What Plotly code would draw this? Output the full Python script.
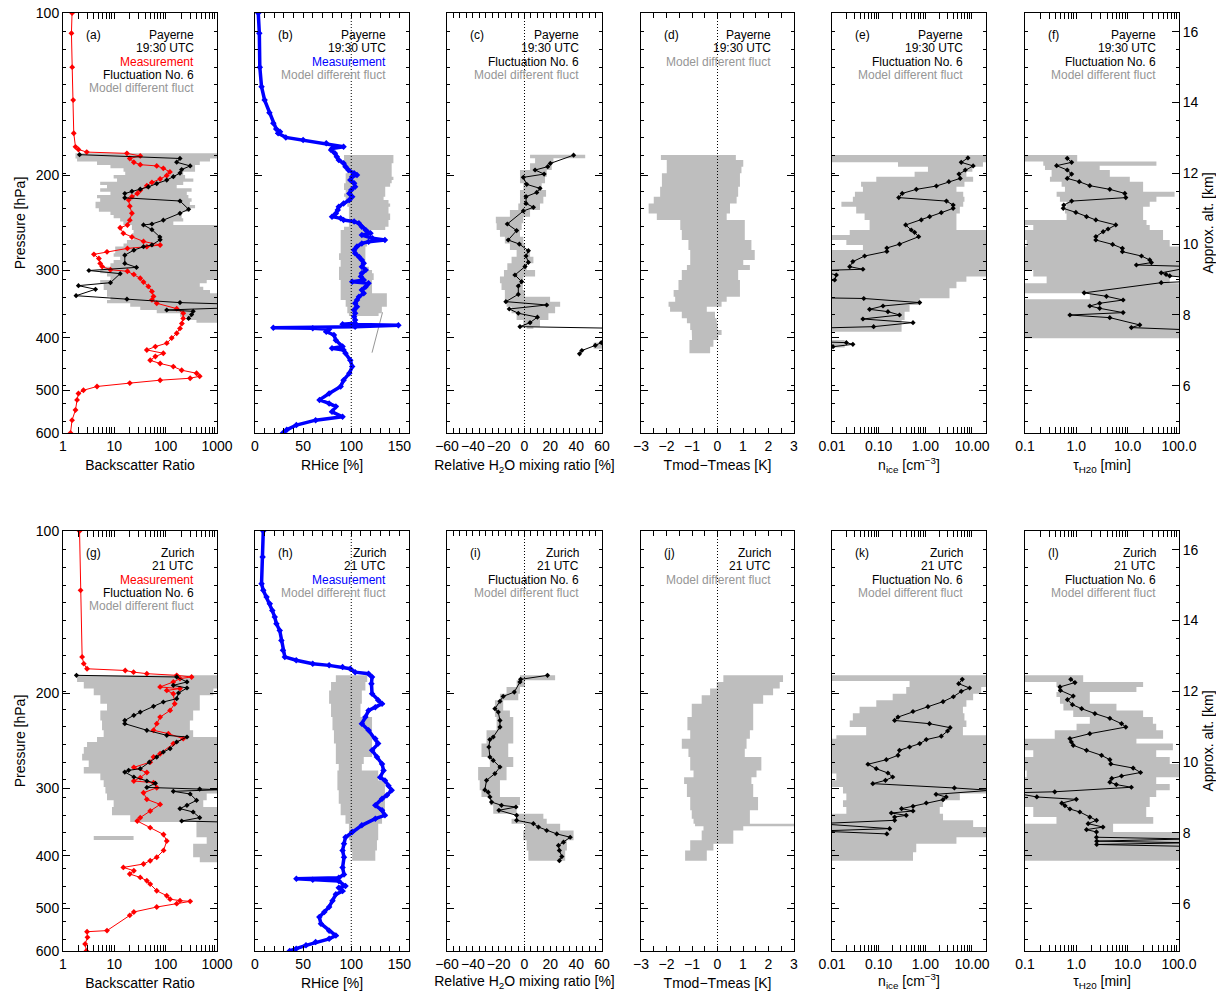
import math
import plotly.graph_objects as go

# ===================== DATA =====================
# ---- (a) Payerne, backscatter ratio ----
A_MEAS_P = [100,109,126,145,167,177,179,181,182,184,186,189,191,192,194,197,200,203,206,209,213,216,219,222,228,235,242,247,250,256,260,265,269,271,273,277,280,285,291,295,299,301,305,310,315,321,328,335,340,345,353,360,368,376,384,392,400,409,415,421,427,433,440,446,452,459,465,471,475,479,485,492,500,507,521,544,568,600]
A_MEAS_V = [1.5,1.46,1.51,1.58,1.62,1.75,2.0,2.9,17.6,32,20,24,32,67,90,121,105,78,54,43,32,28,22,19,20,22,20,18,13,15,22,37,78,43,18,7.2,4,5,5.3,5.8,8.4,18,24,32,37,46,54,58,54,67,164,220,220,207,190,164,131,105,63,43,90,63,50,78,141,205,400,460,300,78,20,4.6,2.5,2.0,1.88,1.75,1.5,1.4]
A_FLUC_P = [183,186,189,192,195,198,201,204,207,210,212,214,216,220,223,231,235,242,246,247,252,260,263,269,271,275,281,291,296,300,304,316,320,325,334,339,344,346,352,355,357,362,368]
A_FLUC_V = [2.1,190,164,300,205,190,141,105,67,46,32,22,16,16,190,280,190,90,54,37,54,77,78,54,37,24,16,16,27,3.2,13,8.4,2.0,4.3,1.8,17.6,190,1500,1500,105,343,320,280]
A_BAND_EDGES = [182,186,188.5,191.2,194,196.8,199.6,202.5,205.4,208.3,211.3,214.3,217.4,220.5,223.7,226.9,230.1,233.4,236.7,240.1,243.5,247,252.4,256,259.7,263.4,267.2,270.9,274.9,278.8,282.8,286.8,290.9,295.1,299.3,303.6,307.9,312.4,316.9,321.4,326,330.7,335.4,340.2,345.1,350,355,360.1,365.3,370.5,374.7]
A_BAND_LO = [1.75,1.88,4.6,8.4,15.1,16.3,9.7,11.3,5.3,7.2,5.3,8.4,4.6,5.3,4.3,4.3,5.0,8.4,9.7,13,15,22,23.7,22,23.7,17.6,15.1,10.4,10.4,9.7,13,9.7,8.4,6.2,5.3,7.2,8.4,5.3,6.2,6.2,7.2,7.2,8.4,7.2,20.4,32,67,190,258,398]
A_BAND_HI = [1000,731,462,374,374,220,239,346,220,164,320,258,277,320,296,374,296,205,205,220,141,1000,1000,1000,1000,1000,1000,1000,1000,1000,1000,1000,1000,1000,1000,1000,1000,630,462,540,731,1000,1000,1000,1000,1000,1000,1000,1000,1000]

# ---- (b) Payerne, RHice ----
B_MEAS_P = [100,109,126,137,145,153,160,164,166,167,170,172,174.4,176.9,178.2,179.4,182,184.6,187.2,189.9,192.6,195.4,198.2,199.6,201,203.9,206.8,209.8,212.8,215.9,218.9,222.1,225.3,228.5,231.7,235.1,238.4,240.1,241.8,243.5,245.3,248.8,252.4,256,257.8,261.5,263.4,265.3,267.2,270.9,274.9,278.8,282.8,286.8,290.9,295.1,299.3,303.6,307.9,312.4,314.6,316.9,321.4,326,330.7,335.4,340.2,345.1,350,355,360.1,365.3,370.5,375.8,377.4,379,381.2,382.9,383.9,385.6,389.4,395,404,415,418,421,427,440,452,465,479,492,507,521,529,536,548,560,568,580,592,600]
B_MEAS_V = [3.4,4.5,5,6.8,10,15,19,22,26,24,32,50,74,92,80,79,83,85,87,92,94,97,103,106,101,99,103,104,100,98,101,98,92,87,86,84,80,89,92,103,108,111,115,120,111,122,135,118,111,106,103,104,108,111,113,111,115,111,110,113,101,118,115,111,113,108,106,104,106,103,104,103,104,104,91,149,104,19,60,77,74,82,84,91,80,92,94,99,101,98,92,89,77,67,77,84,80,91,63,43,33,29]
B_BAND_EDGES = [183.3,187.2,189.9,192.6,195.4,198.2,201,203.9,206.8,209.8,212.8,215.9,218.9,222.1,225.3,228.5,231.7,235.1,238.4,241.8,245.3,248.8,252.4,256,263.4,270.9,278.8,286.8,295.1,299.3,303.6,312.4,321.4,330.7,340.2,350,360.1,364.2]
B_BAND_LO = [92.5,92.5,92.5,94.2,95.9,94.2,94.2,94.2,92.5,92.5,94.2,92.5,94.2,95.9,95.9,97.6,97.6,97.6,97.6,97.6,97.6,92.5,89,89,89,89,87.3,89,87.3,87.3,87.3,89,89,89,94.2,95.9,97.6]
B_BAND_HI = [143.8,143.8,142,142,142,142,143.8,142,140.4,135.3,135.3,135.3,133.6,138.7,140.4,138.7,138.7,140.4,140.4,138.7,138.7,135.3,119.9,118.2,116.4,114.7,114.7,114.7,118.2,121.6,123.3,121.6,121.6,137,137,131.8,128.4]
B_THIN_P = [358.6, 425.9]
B_THIN_V = [132.5, 121.6]

# ---- (c) Payerne, relative H2O mixing ratio ----
C_FLUC_P = [183.4,190,192.6,195.4,198.8,201.6,207.7,211.3,215,218.9,225.3,229.1,232.7,246,253,263.4,268,275.7,282,289.7,295,305.8,314.6,320.5,332,342.6,347.5,353.5,360,366,374.7,381.2,384.5,405,408,413,422,428]
C_FLUC_V = [38,20,18,8.2,15.2,-0.9,1.7,12,9.5,1.2,1.2,6.9,-0.9,-13.3,-6.1,-12.6,-4,3,1.2,3,0.4,-7.4,-2.2,-4.8,-4.8,-14.4,17.2,-11.8,-4.8,10,4.3,-3.5,90,75,59.5,54.8,44.4,42.6]
C_BAND_EDGES = [183.1,185.9,189.9,195.4,201,206.8,212.8,218.9,225.3,231.7,238.4,245.3,252.4,259.7,267.2,274.9,282.8,290.9,299.3,307.9,316.9,326,335.4,342.6,350,360.1,370.5,381.2,384.5]
C_BAND_LO = [4.3,8.2,4.3,-3.5,-3.5,-0.9,-3.5,-3.5,-4.8,-11.3,-22.2,-21.6,-19,-15.2,-11.3,-6.1,-10,-13.3,-15.9,-19,-17.8,-15.2,-15.2,-13.9,-10,-6.1,-0.9,1.7]
C_BAND_HI = [47,22.4,21.1,17.2,15.9,13.3,16.7,14.6,12,4.3,-0.9,-2.2,-3.5,-0.9,0.4,4.3,6.9,1.7,8.2,-0.9,-1.4,0.4,19.8,27.6,23.7,18.5,12,6.9]
C_PATCH_EDGES = [408, 418.7]
C_PATCH_LO = [53.5]
C_PATCH_HI = [60]

# ---- (d) Payerne, Tmod-Tmeas ----
D_BAND_EDGES = [183.3,187.2,192.6,198.2,209.8,218.9,225.3,235.1,241.8,252.4,263.4,274.9,286.8,293,299.3,312.4,326,335.4,342.6,350,357.5,367.9,375.8,386.7,395,403.5,415.2,427.1]
D_BAND_LO = [-2.22,-1.99,-1.99,-2.18,-2.25,-2.5,-2.7,-2.38,-1.46,-1.4,-1.14,-1.07,-1.07,-1.2,-1.4,-1.53,-1.72,-1.66,-1.92,-1.86,-1.4,-1.2,-1.07,-1.01,-1.0,-1.1,-1.1]
D_BAND_HI = [0.72,1.01,0.94,0.88,0.81,0.75,0.49,0.36,1.07,1.07,1.33,1.46,1.01,1.27,0.81,0.88,0.88,0.36,0.16,-0.42,-0.1,-0.03,0.0,0.16,0.03,-0.16,-0.29]

# ---- (e) Payerne, n_ice ----
E_FLUC_P = [185.6,189.1,192,195.4,198.8,202.5,205.4,209.2,212.2,215.9,219.8,223.1,226.9,230.1,234.4,238.4,241.8,247,252.4,254.9,259.7,268.1,272.5,276.5,282,288.8,295.1,298.4,300,305.8,312.4,316,337,338,344,349,354,357.5,362.7,368.9,374.7,381.2,383.5,406.4,408.1,411,415.2]
E_FLUC_V = [8.2,5.9,10.6,7.2,5.27,5.6,3.2,1.73,0.642,0.32,0.27,2.84,3.95,3.95,2.2,1.24,0.82,0.38,0.5,0.59,0.72,0.28,0.15,0.15,0.05,0.028,0.024,0.046,0.005,0.0124,0.0114,0.005,0.005,0.048,0.757,0.124,0.064,0.158,0.28,0.046,0.545,0.078,0.005,0.005,0.0203,0.028,0.0105]
E_BAND_EDGES = [183.3,189.1,192.6,196.8,201,205.4,209.8,214.3,218.9,223.7,228.5,235.1,241.8,252.4,257.8,263.4,269.1,274.9,286.8,295.1,307.9,314.6,323.7,337.8,347.5,357.5,370.5,389.4,403.5,416.4]
E_BAND_LO = [0.01,0.26,1.14,0.59,0.089,0.042,0.046,0.031,0.028,0.0159,0.033,0.05,0.064,0.024,0.01,0.0203,0.046,0.01,0.01,0.01,0.01,0.01,0.01,0.01,0.01,0.01,0.01,None,0.01]
E_BAND_HI = [20,17.2,10.2,7.6,10.6,6.9,4.65,6.5,6.9,6.5,5.5,4.65,4.65,20,20,20,20,20,20,20,7.6,4.65,3.3,0.76,0.46,0.36,0.31,None,0.0187]

# ---- (f) Payerne, tau_H2O ----
F_FLUC_P = [185.9,189.1,191.8,195.4,198.8,202.5,205.4,208.9,212.2,215.9,219.8,223.1,226.9,230.1,234.1,238.4,241.8,247,251.3,254.2,259.7,263.4,268.4,272.9,276.8,282,286.8,290,293,295,303,305,307,310,314,316,330,334.9,340.2,345,349,352.5,359,362.7,366.8,378.4,382.7,386.7]
F_FLUC_V = [0.665,0.81,0.413,0.665,0.81,0.665,1.14,1.83,4.49,8.8,9.2,0.81,0.57,0.556,0.98,1.58,2.4,5.87,4.15,3.33,2.4,2.4,5.1,7.9,7.9,18.6,26.9,29,14.8,200,45,56,66,200,200,45,1.42,3.86,8.15,2.85,1.83,2.85,8.15,0.75,4.49,17.2,11.8,200]
F_BAND_EDGES = [183.3,188.5,191.8,195.4,201,205.4,209.8,214.3,218.9,223.7,228.5,235.1,241.8,247,252.4,263.4,270.9,290.9,299.3,307.9,316.9,330.7,339.2,400.6]
F_BAND_LO = [0.1,0.227,0.245,0.33,0.306,0.517,0.6,0.413,0.479,0.645,0.6,0.645,0.1,0.145,0.1,0.108,0.1,0.1,0.145,0.264,0.1,1.83,0.1]
F_BAND_HI = [1.04,36.3,2.85,4.49,11,20,20,82,36.3,26.9,20,20,23.3,26.9,48.9,65.9,100,100,100,65.9,100,100,100]

# ---- (g) Zurich, backscatter ratio ----
G_MEAS_P = [100,128.8,171.1,176.1,180,181.3,182.6,183.8,185.1,186.4,187.7,190.4,194.5,195.9,197.4,200.2,209,215,221.2,227.5,234,237.4,242.5,247.7,258.6,262.3,268.1,274.1,280.2,286.4,290.5,292.6,299,305.5,314.2,321,330.2,339.7,344.6,354.5,365,375.3,390.7,402.3,408.2,414,420,426,432.1,438.3,444.6,451,464,474,481,484,485.5,490.3,497.4,508,515.4,550,552.6,566,582.4,600]
G_MEAS_V = [2.1,2.2,2.36,2.54,2.94,16.3,23.7,43,164,320,190,141,78,190,105,141,150,122,78,67,58,113,220,141,78,58,50,24,43,32,24,58,67,37,43,78,50,32,28,50,91,105,91,67,50,37,15,24,20,32,43,50,67,105,122,190,300,164,67,24,20,7.2,2.94,3.0,2.7,2.85]
G_FLUC_P = [185.1,186.4,190.4,193.2,195.4,199.6,204.5,207.4,211.3,216.5,219.5,224.4,227.5,234,239.1,240.8,246,253.1,256.7,262.3,268.1,275.7,277.6,279.7,285.6,290.5,293.4,298.6,300.7,301.5,303.6,307.1,315.5,322.3,326.9,331.6,339.7,344.6,346]
G_FLUC_V = [1.83,164,260,141,260,178,164,90,58,32,24,16,16,43,105,260,164,122,90,67,48,32,19,16,24,43,63,43,460,1200,141,300,400,260,190,343,460,205,1200]
G_BAND_EDGES = [185.1,190.4,195.9,201.6,208.9,215,224.4,234,240.8,246,251.3,258.6,266.1,273.7,281.5,289.7,298,306.6,315.5,324.6,336.4,346,369.3,379.6,402.3,411]
G_BAND_LO = [1.88,2.54,3.97,5.34,7.2,5.34,5.76,6.2,4.6,2.94,2.54,2.36,3.17,2.54,5.34,6.2,6.7,7.2,9.7,9.0,20.4,398,630,343,462]
G_BAND_HI = [1000,1000,850,462,462,343,296,343,1000,1000,1000,1000,1000,1000,1000,1000,1000,630,540,1000,1000,1000,1000,1000,1000]
G_BAND2_EDGES = [367.2, 373.6]
G_BAND2_LO = [3.97]
G_BAND2_HI = [23.7]

# ---- (h) Zurich, RHice ----
H_MEAS_P = [100,111.7,125.2,128.8,132.5,136.4,140.4,144.4,148.6,152.9,159.6,166.4,171.1,173.6,176.1,177.4,178.7,180,182.6,183.8,186.4,191.8,200.2,205.9,208.9,212,215,221.2,227.5,234,242.5,247.7,254.9,262.3,270.1,277.9,286,290,296.5,302.3,308.8,313.3,322.3,329.2,336.4,341.2,351,361.1,369.3,379.6,390.7,402.3,420.2,432.7,439,440.7,442.7,445.2,454.8,458.1,464.5,471.2,484,497.4,508,519,534,550.2,561.8,569.7,577.7,585.7,594,600]
H_MEAS_V = [8.6,7.9,6.8,8.6,12,15.4,18,20.5,22.3,25.7,27.4,29,31,42.8,60,77,91,99,104,118,121.6,121,121.6,128,132,125,118,114.7,111,118,125,128,121.6,126.7,132,133.6,130,135,138.7,142,137,132,125,132,135,125,111,101,94,92.5,91,92.5,91,92.5,87,43,60,87,94,87,91,84,80.5,77,72,66.8,68.5,77,84,77,63,53,42.8,36]
H_BAND_EDGES = [185.1,190.4,197.4,208.9,221.2,234,247.7,262.3,270.1,277.9,290,302.3,320.3,336.4,348.5,374,390.7,408.2]
H_BAND_LO = [84,79,77,79,80.5,82,84,84,87,85.6,85.6,87,89,94,97.6,99,101]
H_BAND_HI = [116.6,114.7,111,109.6,121.6,121.6,121.6,113,111,128,135,135,135,132,128,126.7,125]

# ---- (i) Zurich, relative H2O mixing ratio ----
I_FLUC_P = [185.1,188.3,190.4,198.8,202.5,206.8,213.4,216.5,224.4,230.8,240.8,243.5,251.3,262.3,266.1,273.7,281.5,289.7,301.8,304.7,311,317.8,322.3,324.6,329.2,336.4,343.6,348.5,353.6,358.8,364.1,369.3,377.1,382.5,390.7,401.1,408.2]
I_FLUC_V = [17.8,-3,-3.5,-7.9,-16.5,-19,-22.9,-20.3,-19,-19,-24.2,-26.8,-27.6,-26.8,-24.2,-19,-22.9,-29.4,-30.7,-28.1,-26.8,-25.5,-17.8,-6.6,-19.8,-6.1,-6.1,6.9,10.8,17.2,25,35.4,30.2,26.3,27,28.9,27]
I_BAND_EDGES = [185.1,189.1,194.5,200.2,205.9,215,221.2,234,247.7,262.3,273.7,289.7,302.3,311,322.3,334,341.2,348.5,358.8,374,390.7,408.2]
I_BAND_LO = [-3.5,-6.1,-13.9,-19,-22.9,-22.9,-21.6,-29.4,-33.3,-26.8,-35.9,-34.7,-33.3,-26.8,-24.2,-6.1,-10,0.4,-0.9,1.7,3]
I_BAND_HI = [23.7,0.4,-3.5,-4.8,-16.5,-11.3,-8.7,-8.7,-12.6,-8.7,-13.9,-19,-19,-3.5,-6.1,14.6,17.2,27.6,38,32.8,31.5]

# ---- (j) Zurich, Tmod-Tmeas ----
J_BAND_EDGES = [185.1,190.4,195.9,201.6,208.9,221.2,234,242.5,253.1,262.3,277.9,286,294.2,311,329.2,341.2,348.5,352.5,358.8,374,379.6,390.7,408.2]
J_BAND_LO = [0.23,-0.03,-0.29,-0.62,-1.01,-1.18,-1.07,-1.4,-1.14,-1.07,-0.94,-1.31,-1.2,-1.07,-1.01,-0.94,-0.88,-0.55,-0.62,-1.07,-1.07,-1.27]
J_BAND_HI = [2.57,2.44,2.18,1.79,1.4,1.4,1.27,1.14,1.07,1.72,1.53,1.33,1.4,1.59,1.27,1.27,3.3,1.01,0.62,0.62,-0.16,-0.42]

# ---- (k) Zurich, n_ice ----
K_FLUC_P = [188.3,191.8,195.4,198.2,202.8,207.1,211.6,216,221.2,224.4,227.5,231.4,234.7,240,243.5,247.7,251.3,254.9,260.4,265.3,270.5,275.7,280.8,285.6,289.7,293.8,299.3,302.3,307.5,311,314.6,319.1,323.7,326.9,330.2,333,336.4,338.8,343.6,348.5,356,359.6,364.1]
K_FLUC_V = [6.2,5.2,8.9,5.9,4.0,2.4,1.14,0.545,0.26,0.22,1.23,3.4,3.0,2.2,1.05,0.76,0.46,0.28,0.26,0.146,0.059,0.089,0.158,0.2,0.14,0.075,4.2,25,1.7,2.8,2.4,1.05,0.545,0.31,0.545,0.187,0.39,0.22,0.22,0.005,0.172,0.005,0.15]
K_BAND_EDGES = [185.1,189.6,194.5,200.2,205.9,211.6,217.6,224.4,230.8,239.1,242.5,251.3,262.3,273.7,281.5,289.7,298,306.6,315.5,324.6,334,343.6,353.6,369.3,379.6,393.6,408.2]
K_BAND_LO = [0.01,0.46,0.39,0.2,0.089,0.039,0.028,0.024,0.054,0.0124,0.01,0.01,0.01,0.01,0.0124,0.01,0.0172,0.0203,0.0172,0.0203,0.01,0.01,0.01,0.01,0.01,0.01]
K_BAND_HI = [20,20,15.8,10.6,7.6,6.4,6.9,7.6,6.4,20,20,20,20,20,20,20,20,5.5,2.4,2.04,2.4,10.6,20,4.65,0.64,0.545]

# ---- (l) Zurich, tau_H2O ----
L_FLUC_P = [188.3,190.9,194.5,197.4,202.2,205.4,209.8,213.4,217.9,222.4,227.5,230.8,237.4,242.5,246,249.5,254.9,260.4,265.3,270.1,274.9,280.2,284.4,287.4,292,295,298.4,304.2,305.5,311,314.2,319.3,322.8,327.4,331.6,338.8,343.6,348.5,353.6,357.5,361.1,369.3,372,375.5,378.1,380.9,384]
L_FLUC_V = [0.78,0.94,0.48,0.49,0.87,0.67,0.84,1.27,2.3,4.5,7.6,9.2,1.83,0.75,0.8,0.87,1.58,3.1,4.5,4.7,12.8,17.8,7.6,4.9,4.5,6.0,11.8,0.38,0.06,0.17,1.0,0.52,0.6,0.75,1.17,1.83,2.47,1.7,3.3,1.58,2.47,2.47,150,2.5,150,2.5,150]
L_BAND_EDGES = [185.1,190.4,194.5,198.8,203.1,208.9,215,221.2,227.5,234,242.5,247.7,254.9,262.3,270.1,277.9,286,294.2,302.3,311,324.6,338.8,348.5,361.1,408.2]
L_BAND_LO = [0.1,0.41,0.44,0.41,0.48,0.56,0.87,1.83,1.01,0.38,0.1,0.1,0.145,0.1,0.1,0.108,0.1,0.1,0.1,0.1,0.145,0.41,0.1,0.1]
L_BAND_HI = [1.36,20,14.8,1.83,1.83,6.05,20,31,36,49,14.8,76,36,66,100,100,36,66,36,26.9,23,31.5,5.2,100]

# axis tick data
P_TICKS = [100, 200, 300, 400, 500, 600]
ALT_TICKS = [6, 8, 10, 12, 14, 16]
SITES = [("Payerne", "19:30 UTC"), ("Zurich", "21 UTC")]
LETTERS = "abcdefghijkl"

# ===================== STYLE / LAYOUT =====================
W, H = 1216, 991
COLS = [(63, 217), (255, 409), (447, 602), (641, 794), (832, 986), (1025, 1179)]
ROWS = [(13, 433), (531, 951)]
P_RANGE = [math.log10(600), math.log10(100)]
ALT_RANGE = [4.667, 16.527]
GRAY = "rgb(190,190,190)"
GRAY_TXT = "rgb(150,150,150)"
FONT = "Liberation Sans, Arial, sans-serif"
TICK_SIZE = 14
ANN_SIZE = 12

RED = dict(mode="lines+markers", line=dict(color="red", width=1),
           marker=dict(symbol="diamond", size=4.5, color="red"))
BLUE = dict(mode="lines+markers", line=dict(color="blue", width=3.5),
            marker=dict(symbol="diamond", size=5, color="blue"))
FLUC = dict(mode="lines+markers", line=dict(color="black", width=1),
            marker=dict(symbol="diamond", size=4, color="black"))
THIN = dict(mode="lines", line=dict(color="rgb(150,150,150)", width=1))


def log_minor(e0, e1):
    return [m * 10 ** e for e in range(e0, e1) for m in range(2, 10)]


X_AXES = [
    dict(type="log", range=[0, 3], tickvals=[1, 10, 100, 1000],
         ticktext=["1", "10", "100", "1000"],
         minor=dict(tickvals=log_minor(0, 3)), title="Backscatter Ratio"),
    dict(type="linear", range=[0, 160], tickvals=[0, 50, 100, 150],
         ticktext=["0", "50", "100", "150"], minor=dict(dtick=10, tick0=0),
         title="RHice [%]"),
    dict(type="linear", range=[-60, 60], tickvals=[-60, -40, -20, 0, 20, 40, 60],
         ticktext=["\u221260", "\u221240", "\u221220", "0", "20", "40", "60"],
         minor=dict(dtick=5, tick0=0), title="Relative H<sub>2</sub>O mixing ratio [%]"),
    dict(type="linear", range=[-3, 3], tickvals=[-3, -2, -1, 0, 1, 2, 3],
         ticktext=["\u22123", "\u22122", "\u22121", "0", "1", "2", "3"],
         minor=dict(dtick=0.5, tick0=0), title="Tmod\u2212Tmeas [K]"),
    dict(type="log", range=[-2, math.log10(20)], tickvals=[0.01, 0.1, 1, 10],
         ticktext=["0.01", "0.10", "1.00", "10.00"],
         minor=dict(tickvals=log_minor(-2, 2)), title="n<sub>ice</sub> [cm<sup>\u22123</sup>]"),
    dict(type="log", range=[-1, 2], tickvals=[0.1, 1, 10, 100],
         ticktext=["0.1", "1.0", "10.0", "100.0"],
         minor=dict(tickvals=log_minor(-1, 2)), title="\u03c4<sub>H20</sub> [min]"),
]

REF_LINES = {1: 100, 2: 0, 3: 0}

TEXT_LINES = [
    [("Measurement", "red"), ("Fluctuation No. 6", "black"), ("Model different fluct", GRAY_TXT)],
    [("Measurement", "blue"), ("Model different fluct", GRAY_TXT)],
    [("Fluctuation No. 6", "black"), ("Model different fluct", GRAY_TXT)],
    [("Model different fluct", GRAY_TXT)],
    [("Fluctuation No. 6", "black"), ("Model different fluct", GRAY_TXT)],
    [("Fluctuation No. 6", "black"), ("Model different fluct", GRAY_TXT)],
]

PANEL_ITEMS = [
    [("band", A_BAND_EDGES, A_BAND_LO, A_BAND_HI), ("line", A_MEAS_P, A_MEAS_V, RED),
     ("line", A_FLUC_P, A_FLUC_V, FLUC)],
    [("band", B_BAND_EDGES, B_BAND_LO, B_BAND_HI), ("line", B_THIN_P, B_THIN_V, THIN),
     ("line", B_MEAS_P, B_MEAS_V, BLUE)],
    [("band", C_BAND_EDGES, C_BAND_LO, C_BAND_HI), ("band", C_PATCH_EDGES, C_PATCH_LO, C_PATCH_HI),
     ("line", C_FLUC_P, C_FLUC_V, FLUC)],
    [("band", D_BAND_EDGES, D_BAND_LO, D_BAND_HI)],
    [("band", E_BAND_EDGES, E_BAND_LO, E_BAND_HI), ("line", E_FLUC_P, E_FLUC_V, FLUC)],
    [("band", F_BAND_EDGES, F_BAND_LO, F_BAND_HI), ("line", F_FLUC_P, F_FLUC_V, FLUC)],
    [("band", G_BAND_EDGES, G_BAND_LO, G_BAND_HI), ("band", G_BAND2_EDGES, G_BAND2_LO, G_BAND2_HI),
     ("line", G_MEAS_P, G_MEAS_V, RED), ("line", G_FLUC_P, G_FLUC_V, FLUC)],
    [("band", H_BAND_EDGES, H_BAND_LO, H_BAND_HI), ("line", H_MEAS_P, H_MEAS_V, BLUE)],
    [("band", I_BAND_EDGES, I_BAND_LO, I_BAND_HI), ("line", I_FLUC_P, I_FLUC_V, FLUC)],
    [("band", J_BAND_EDGES, J_BAND_LO, J_BAND_HI)],
    [("band", K_BAND_EDGES, K_BAND_LO, K_BAND_HI), ("line", K_FLUC_P, K_FLUC_V, FLUC)],
    [("band", L_BAND_EDGES, L_BAND_LO, L_BAND_HI), ("line", L_FLUC_P, L_FLUC_V, FLUC)],
]


def band_xy(edges, lo, hi):
    """Step outline(s) of the gray model range, one closed path per contiguous block."""
    xs, ys = [], []
    n = len(lo)
    i = 0
    while i < n:
        if lo[i] is None:
            i += 1
            continue
        j = i
        while j < n and lo[j] is not None:
            j += 1
        px, py = [], []
        for k in range(i, j):
            px += [hi[k], hi[k]]
            py += [edges[k], edges[k + 1]]
        for k in range(j - 1, i - 1, -1):
            px += [lo[k], lo[k]]
            py += [edges[k + 1], edges[k]]
        px.append(px[0])
        py.append(py[0])
        xs += px + [None]
        ys += py + [None]
        i = j
    return xs, ys


def ax_name(prefix, n):
    return prefix if n == 1 else f"{prefix}{n}"


fig = go.Figure()
layout = dict(width=W, height=H, autosize=False, margin=dict(l=0, r=0, t=0, b=0, pad=0),
              template="none",
              paper_bgcolor="white", plot_bgcolor="white", showlegend=False,
              font=dict(family=FONT, size=TICK_SIZE, color="black"))
annotations = []
shapes = []

for idx in range(12):
    row, col = divmod(idx, 6)
    n = idx + 1
    xa, ya = ax_name("x", n), ax_name("y", n)
    x0, x1 = COLS[col]
    y0, y1 = ROWS[row]
    xdom = [x0 / W, x1 / W]
    ydom = [1 - y1 / H, 1 - y0 / H]

    for item in PANEL_ITEMS[idx]:
        if item[0] == "band":
            bx, by = band_xy(item[1], item[2], item[3])
            fig.add_trace(go.Scatter(x=bx, y=by, xaxis=xa, yaxis=ya, mode="lines",
                                     fill="toself", fillcolor=GRAY,
                                     line=dict(width=0, color=GRAY), hoverinfo="skip"))
        else:
            fig.add_trace(go.Scatter(x=item[2], y=item[1], xaxis=xa, yaxis=ya, **item[3]))

    xc = X_AXES[col]
    is_log = xc["type"] == "log"
    minor = dict(ticks="inside", ticklen=3 if is_log else 4, tickcolor="black", showgrid=False)
    minor.update(xc["minor"])
    layout[ax_name("xaxis", n)] = dict(
        domain=xdom, anchor=ya, type=xc["type"], range=xc["range"], automargin=False,
        tickmode="array", tickvals=xc["tickvals"], ticktext=xc["ticktext"], tickangle=0,
        ticks="inside", ticklen=6 if is_log else 5, tickcolor="black",
        minor=minor, showline=True, linecolor="black", linewidth=1, mirror="allticks",
        showgrid=False, zeroline=False, tickfont=dict(size=TICK_SIZE),
        title=dict(text=xc["title"], standoff=7, font=dict(size=TICK_SIZE)))

    yax = dict(
        domain=ydom, anchor=xa, type="log", range=P_RANGE, automargin=False,
        tickmode="array", tickvals=P_TICKS, ticktext=[str(v) for v in P_TICKS],
        showticklabels=(col == 0), ticks="inside", ticklen=7, tickcolor="black",
        showline=True, linecolor="black", linewidth=1,
        mirror=("allticks" if col < 5 else False),
        showgrid=False, zeroline=False, tickfont=dict(size=TICK_SIZE))
    if col == 0:
        yax["title"] = dict(text="Pressure [hPa]", standoff=6, font=dict(size=TICK_SIZE))
    layout[ax_name("yaxis", n)] = yax

    # altitude grid ticks (every 0.5 km) on both vertical borders
    alt_n = n + 12
    layout[ax_name("yaxis", alt_n)] = dict(
        overlaying=ya, anchor=xa, side="left", range=ALT_RANGE, automargin=False,
        tickmode="linear", tick0=0, dtick=0.5, ticks="inside", ticklen=3,
        tickcolor="black", showticklabels=False, mirror="allticks",
        showline=False, showgrid=False, zeroline=False)
    fig.add_trace(go.Scatter(x=[None], y=[None], xaxis=xa, yaxis=ax_name("y", alt_n),
                             mode="lines", hoverinfo="skip"))

    if col == 5:
        rn = 25 if row == 0 else 26
        layout[ax_name("yaxis", rn)] = dict(
            overlaying=ya, anchor=xa, side="right", range=ALT_RANGE, automargin=False,
            tickmode="array", tickvals=ALT_TICKS, ticktext=[str(v) for v in ALT_TICKS],
            ticks="inside", ticklen=7, tickcolor="black",
            showline=True, linecolor="black", linewidth=1,
            showgrid=False, zeroline=False, tickfont=dict(size=TICK_SIZE),
            title=dict(text="Approx. alt. [km]", standoff=8, font=dict(size=TICK_SIZE)))
        fig.add_trace(go.Scatter(x=[None], y=[None], xaxis=xa, yaxis=ax_name("y", rn),
                                 mode="lines", hoverinfo="skip"))

    if col in REF_LINES:
        shapes.append(dict(type="line", xref=xa, yref=f"{ya} domain",
                           x0=REF_LINES[col], x1=REF_LINES[col], y0=0, y1=1,
                           line=dict(color="black", width=1, dash="1px,2px")))

    # in-panel labels
    site, time = SITES[row]
    lines = [(site, "black"), (time, "black")] + TEXT_LINES[col]
    annotations.append(dict(text=f"({LETTERS[idx]})", xref="paper", yref="paper",
                            x=(x0 + 21) / W, y=1 - (y0 + 22) / H, xanchor="left",
                            yanchor="middle", showarrow=False,
                            font=dict(size=ANN_SIZE, color="black")))
    for k, (txt, colr) in enumerate(lines):
        annotations.append(dict(text=txt, xref="paper", yref="paper",
                                x=(x1 - 21) / W, y=1 - (y0 + 22 + 13.3 * k) / H,
                                xanchor="right", yanchor="middle", showarrow=False,
                                font=dict(size=ANN_SIZE, color=colr)))

layout["annotations"] = annotations
layout["shapes"] = shapes
fig.update_layout(**layout)

fig.write_html(
    "out.html",
    config={"displayModeBar": False, "responsive": False},
    default_width="1216px", default_height="991px",
    post_script="document.body.style.margin='0';document.body.style.overflow='hidden';",
)
